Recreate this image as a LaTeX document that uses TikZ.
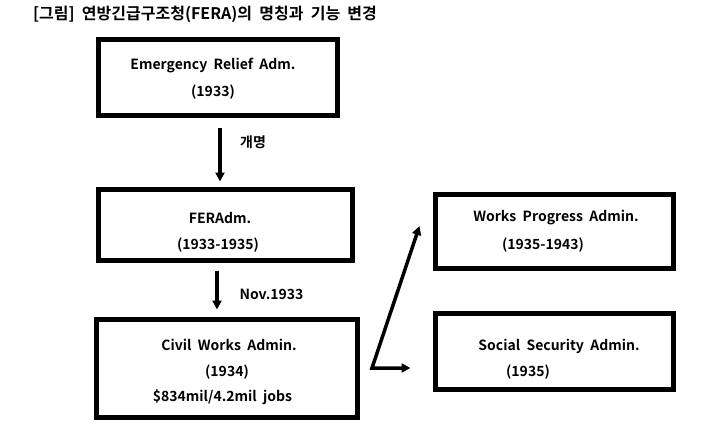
\documentclass[tikz,border=0pt]{standalone}
\usepackage{fontspec}
\setmainfont{Noto Sans CJK KR}[BoldFont={* Bold},WordSpace=2]
\usetikzlibrary{arrows.meta}

\begin{document}
\begin{tikzpicture}[x=1pt,y=-1pt,font=\bfseries\fontsize{14}{16}\selectfont,
 box/.style={draw,line width=5pt,inner sep=0pt},
 lbl/.style={inner sep=0pt},
 arr/.style={line width=3.5pt,-{Triangle[length=9pt,width=9pt]}},
 fork/.style={line width=3.5pt,{Triangle[length=9pt,width=9pt]}-{Triangle[length=9pt,width=9pt]}}]
\useasboundingbox (0,0) rectangle (718,431);
\node[lbl,anchor=west,font=\bfseries\fontsize{16}{18}\selectfont] (title) at (33,14) {[그림] 연방긴급구조청(FERA)의 명칭과 기능 변경};
% boxes
\node[box,minimum width=239pt,minimum height=76pt] (era) at (218,77.5) {};
\node[box,minimum width=254pt,minimum height=71pt] (fera) at (225.5,225) {};
\node[box,minimum width=261pt,minimum height=98pt] (cwa) at (227,368.5) {};
\node[box,minimum width=238pt,minimum height=74pt] (wpa) at (554.5,231.5) {};
\node[box,minimum width=238pt,minimum height=76pt] (ssa) at (554.5,351.5) {};
% texts
\node[lbl] (era1) at (213,66) {Emergency Relief Adm.};
\node[lbl] (era2) at (213,92) {(1933)};
\node[lbl] (fera1) at (220,218) {FERAdm.};
\node[lbl] (fera2) at (218,245) {(1933-1935)};
\node[lbl] (cwa1) at (229,345) {Civil Works Admin.};
\node[lbl] (cwa2) at (227,372) {(1934)};
\node[lbl] (cwa3) at (222.5,397) {\$834mil/4.2mil jobs};
\node[lbl] (wpa1) at (556,218) {Works Progress Admin.};
\node[lbl] (wpa2) at (543,245) {(1935-1943)};
\node[lbl] (ssa1) at (559,346) {Social Security Admin.};
\node[lbl] (ssa2) at (528,372) {(1935)};
% arrows
\draw[arr] ([xshift=2pt,yshift=-9.5pt]era.south) -- ([xshift=2pt,yshift=5.5pt]era.south |- fera.north);
\node[lbl] (rename) at (253,142) {개명};
\draw[arr] ([xshift=-8.5pt,yshift=-7.5pt]fera.south) -- ([xshift=-8.5pt,yshift=7.5pt]fera.south |- cwa.north);
\node[lbl] (nov) at (271.5,294) {Nov.1933};
\coordinate (split) at (372,368);
\draw[fork] ([xshift=-13.5pt,yshift=5.5pt]wpa.west) -- (split) -- ([xshift=-22.5pt,yshift=-16.5pt]ssa.west);
\end{tikzpicture}
\end{document}
